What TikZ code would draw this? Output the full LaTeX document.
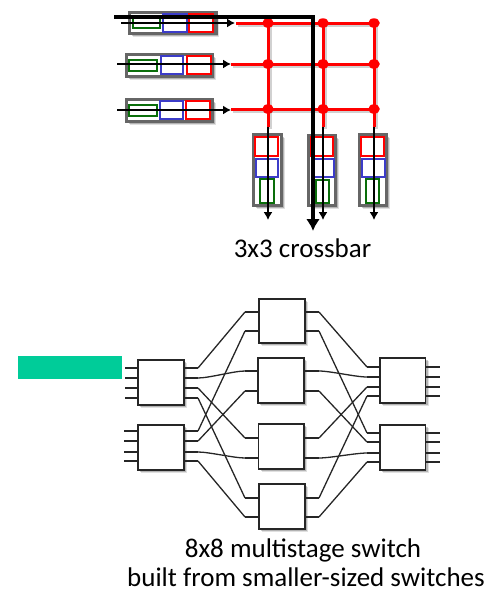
\documentclass[tikz,border=0pt]{standalone}
\usepackage{fontspec}
\setmainfont{Carlito}
\usetikzlibrary{shadows,shapes.geometric,arrows.meta}
\definecolor{frameg}{HTML}{666666}
\definecolor{tealbar}{HTML}{00CC99}
\definecolor{gn}{HTML}{0A6E0A}
\definecolor{bl}{HTML}{3C3CC8}
\definecolor{rd}{HTML}{FF0000}
\tikzset{
  softshadow/.style={
    general shadow={shadow xshift=3pt,shadow yshift=-3pt,fill=black,opacity=.12},
    general shadow={shadow xshift=2pt,shadow yshift=-2pt,fill=black,opacity=.2}},
  plain/.style={draw,inner sep=0pt,outer sep=0pt},
  frame/.style={plain,draw=frameg,line width=3.2pt,fill=white,softshadow},
  gnbox/.style={plain,draw=gn,line width=1.6pt},
  blbox/.style={plain,draw=bl,line width=1.6pt},
  rdbox/.style={plain,draw=rd,line width=1.6pt},
  swbox/.style={plain,draw=black!85,line width=1.4pt,fill=white,softshadow},
  wire/.style={draw=black!85,line width=1.3pt,line join=round},
  redline/.style={draw=rd,line width=3pt},
  redshade/.style={draw=black,opacity=.18,line width=3pt,transform canvas={shift={(2pt,-2pt)}}},
  dot/.style={ellipse,fill=rd,inner sep=0pt,outer sep=0pt,minimum width=11.5pt,minimum height=9.5pt},
  thin arrow/.style={draw=black,line width=1.4pt,-{Latex[length=8pt,width=9pt]}},
  heavy arrow/.style={draw=black,line width=4.4pt,line join=miter,-{Latex[length=12pt,width=14pt]}},
  label/.style={inner sep=0pt,font=\fontsize{27}{32}\selectfont,align=center}
}
\newcommand\bx[6]{\node[#1] (#2) at ({(#3+#5)/2},{(#4+#6)/2}) [minimum width={(#5-(#3))*1pt},minimum height={(#6-(#4))*1pt}] {};}
\begin{document}
\begin{tikzpicture}[x=1pt,y=-1pt]
\useasboundingbox (0,0) rectangle (492,592);
% row frames
\bx{frame}{f1}{129.5}{12.5}{216}{33.5}
\bx{frame}{f2}{126.5}{54.5}{212.5}{76.5}
\bx{frame}{f3}{126.5}{99.5}{212.5}{121.5}
\bx{gnbox}{g1}{133}{17}{160}{28}\bx{blbox}{b1}{163}{14}{187}{32}\bx{rdbox}{r1}{189}{14}{213}{32}
\bx{gnbox}{g2}{129}{60}{157}{71}\bx{blbox}{b2}{161}{56}{183}{74}\bx{rdbox}{r2}{187}{56}{211}{74}
\bx{gnbox}{g3}{129}{105}{157}{116}\bx{blbox}{b3}{160}{101}{183}{119}\bx{rdbox}{r3}{186}{101}{210}{119}
% column frames
\bx{frame}{f4}{253.5}{134.5}{281.5}{205.5}
\bx{frame}{f5}{308.5}{135.5}{335.5}{205.5}
\bx{frame}{f6}{359.5}{134.5}{386.5}{205.5}
\bx{rdbox}{r4}{255}{137}{278}{156}\bx{blbox}{b4}{256}{159}{278}{177}\bx{gnbox}{g4}{260}{179}{274}{203}
\bx{rdbox}{r5}{311}{137}{333}{156}\bx{blbox}{b5}{312}{159}{334}{177}\bx{gnbox}{g5}{316}{180}{329}{203}
\bx{rdbox}{r6}{361}{137}{384}{156}\bx{blbox}{b6}{362}{159}{385}{177}\bx{gnbox}{g6}{366}{179}{379}{203}
% crossbar coordinates
\coordinate (is1) at (121,23);\coordinate (ie1) at (235,23);
\coordinate (is2) at (117,64);\coordinate (ie2) at (231,64);
\coordinate (is3) at (117,110);\coordinate (ie3) at (231,110);
\coordinate (os1) at (268,127);\coordinate (oe1) at (268,220);
\coordinate (os2) at (323,127);\coordinate (oe2) at (323,220);
\coordinate (os3) at (374,127);\coordinate (oe3) at (374,220);
\coordinate (rs1) at (236,23);\coordinate (rs2) at (231,64);\coordinate (rs3) at (231,109);
\coordinate (hs) at (114,17);\coordinate (hc) at (313,17);\coordinate (he) at (313,231);
\foreach \n/\y in {1/23,2/64,3/109}{
  \coordinate (d\n1) at (268,\y);\coordinate (d\n2) at (323,\y);\coordinate (d\n3) at (374,\y);}
% red shade
\foreach \n in {1,2,3}{
  \path[redshade] (rs\n) -- (d\n3);
  \path[redshade] (d1\n) -- (os\n);}
% red grid
\foreach \n in {1,2,3}{
  \path[redline] (rs\n) -- (d\n1) -- (d\n2) -- (d\n3);
  \path[redline] (d1\n) -- (d2\n) -- (d3\n) -- (os\n);}
\foreach \r in {1,2,3}\foreach \c in {1,2,3}{\node[dot] (n\r\c) at (d\r\c) {};}
% thin arrows
\foreach \n in {1,2,3}{
  \path[thin arrow] (is\n) -- (ie\n);
  \path[thin arrow] (os\n) -- (oe\n);}
\path[heavy arrow] (hs) -- (hc) -- (he);
\node[label] (t1) at (302.5,248) {3x3 crossbar};
% multistage
\fill[tealbar] (18,356) rectangle (122,379);
\bx{swbox}{A}{138}{360}{184}{405}
\bx{swbox}{B}{138}{425}{184}{470}
\bx{swbox}{M1}{259}{299}{305}{343}
\bx{swbox}{M2}{258}{358}{304}{403}
\bx{swbox}{M3}{258.5}{424}{304}{469}
\bx{swbox}{M4}{259}{484}{305}{529}
\bx{swbox}{R1}{380}{358}{425.5}{403}
\bx{swbox}{R2}{380}{425}{425.5}{470}
% input and output stubs
\foreach \n/\y in {1/368,2/378,3/388,4/398}{
  \coordinate (ai\n) at (125,\y);\coordinate (ao\n) at (198,\y);
  \path[wire] (ai\n) -- (A.west |- ai\n);
  \path[wire] (A.east |- ao\n) -- (ao\n);}
\foreach \n/\y in {1/431,2/441,3/452,4/461}{
  \coordinate (bi\n) at (124,\y);\coordinate (bo\n) at (198,\y);
  \path[wire] (bi\n) -- (B.west |- bi\n);
  \path[wire] (B.east |- bo\n) -- (bo\n);}
\foreach \n/\y in {1/367,2/377,3/387,4/396}{
  \coordinate (pi\n) at (367,\y);\coordinate (po\n) at (440,\y);
  \path[wire] (pi\n) -- (R1.west |- pi\n);
  \path[wire] (R1.east |- po\n) -- (po\n);}
\foreach \n/\y in {1/433,2/442,3/453,4/462}{
  \coordinate (qi\n) at (367,\y);\coordinate (qo\n) at (440,\y);
  \path[wire] (qi\n) -- (R2.west |- qi\n);
  \path[wire] (R2.east |- qo\n) -- (qo\n);}
\foreach \m/\ya/\yb in {1/312/331,2/371/391,3/438/458,4/498/517}{
  \coordinate (mi\m a) at (245,\ya);\coordinate (mi\m b) at (245,\yb);
  \coordinate (mo\m a) at (319,\ya);\coordinate (mo\m b) at (319,\yb);
  \path[wire] (mi\m a) -- (M\m.west |- mi\m a);
  \path[wire] (mi\m b) -- (M\m.west |- mi\m b);
  \path[wire] (M\m.east |- mo\m a) -- (mo\m a);
  \path[wire] (M\m.east |- mo\m b) -- (mo\m b);}
% first stage to middle stage
\path[wire] (ao1) -- (mi1a);
\path[wire] (ao2) to[out=0,in=180,looseness=.6] (mi2a);
\path[wire] (ao3) -- (mi3a);
\path[wire] (ao4) -- (mi4a);
\path[wire] (bo1) -- (mi1b);
\path[wire] (bo2) -- (mi2b);
\path[wire] (bo3) to[out=0,in=180,looseness=.6] (mi3b);
\path[wire] (bo4) -- (mi4b);
% middle stage to last stage
\path[wire] (mo1a) -- (pi1);
\path[wire] (mo1b) -- (qi1);
\path[wire] (mo2a) to[out=0,in=180,looseness=.6] (pi2);
\path[wire] (mo2b) -- (qi2);
\path[wire] (mo3a) -- (pi3);
\path[wire] (mo3b) to[out=0,in=180,looseness=.6] (qi3);
\path[wire] (mo4a) -- (pi4);
\path[wire] (mo4b) -- (qi4);
\node[label] (t2) at (303,550) {8x8 multistage switch};
\node[label] (t3) at (306,577) {built from smaller-sized switches};
\end{tikzpicture}
\end{document}
